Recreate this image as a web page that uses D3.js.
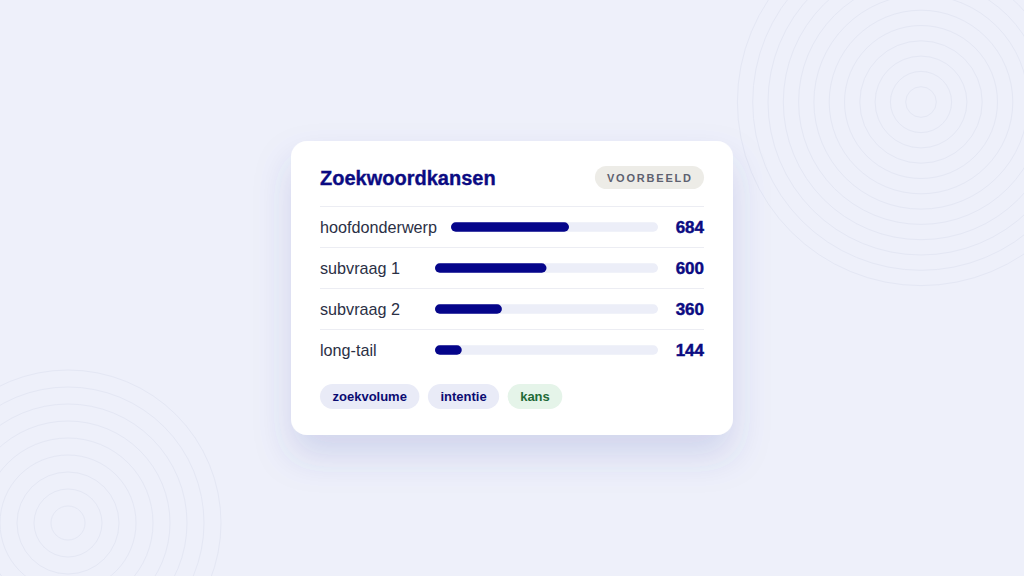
<!DOCTYPE html>
<html><head><meta charset="utf-8">
<script src="https://cdn.jsdelivr.net/npm/d3@7"></script>
<style>
html,body{margin:0;padding:0;background:#eef0fa;}
svg{display:block;}
</style></head>
<body>
<svg id="chart" width="1024" height="576"></svg>
<script>
const title = "Zoekwoordkansen";
const badge = "VOORBEELD";
const categories = ["hoofdonderwerp", "subvraag 1", "subvraag 2", "long-tail"];
const values = [684, 600, 360, 144];
const maxValue = 1200;
const chips = ["zoekvolume", "intentie", "kans"];
const chipKinds = ["blue", "blue", "green"];

const svg = d3.select("#chart");
const W = 1024, H = 576;
const defs = svg.append("defs");
const f = defs.append("filter").attr("id","sh").attr("x","-30%").attr("y","-30%").attr("width","160%").attr("height","180%");
f.append("feDropShadow").attr("dx",0).attr("dy",20).attr("stdDeviation",18)
 .attr("flood-color","#3a44a8").attr("flood-opacity",0.17);

svg.append("rect").attr("width",W).attr("height",H).attr("fill","#eef0fa");

// decorative rings
function rings(cx, cy, step, n){
  svg.append("g").selectAll("circle").data(d3.range(1, n+1)).join("circle")
    .attr("cx",cx).attr("cy",cy).attr("r",d=>d*step)
    .attr("fill","none").attr("stroke","#e4e7f4").attr("stroke-width",1);
}
rings(921, 102, 15.3, 12);
rings(68, 523, 17, 9);

// card
const card = {x:291, y:141, w:442, h:294};
svg.append("rect").attr("x",card.x).attr("y",card.y).attr("width",card.w).attr("height",card.h)
  .attr("rx",16).attr("fill","#ffffff").attr("filter","url(#sh)");

const left = 320, right = 704;
const font = "'Liberation Sans', Arial, sans-serif";

svg.append("text").attr("x",left).attr("y",184.5).text(title)
  .attr("font-family",font).attr("font-weight",700).attr("font-size",20).attr("fill","#0b0b82")
  .attr("stroke","#0b0b82").attr("stroke-width",0.35);

// badge
const bg = svg.append("g");
const bt = bg.append("text").text(badge).attr("font-family",font).attr("font-weight",700)
  .attr("font-size",11).attr("letter-spacing",1.8).attr("fill","#5d6170");
const bw = bt.node().getComputedTextLength();
const bPad = 12;
const bx = right - bw - bPad*2 + 1.8;
bg.insert("rect","text").attr("x",bx-1).attr("y",166).attr("width",bw + bPad*2 - 0.8).attr("height",23)
  .attr("rx",11.5).attr("fill","#edece7");
bt.attr("x",bx+bPad-1).attr("y",181.5);

// rows
const y = d3.scaleBand().domain(categories).range([206.5, 370.5]).paddingInner(0).paddingOuter(0);
const x = d3.scaleLinear().domain([0, maxValue]);
const trackEnd = 658;

const rows = svg.append("g").selectAll("g").data(categories).join("g")
  .attr("transform", d => `translate(0,${y(d)})`);

rows.append("line")
  .attr("x1",left).attr("x2",right).attr("y1",0).attr("y2",0)
  .attr("stroke","#ecedf3").attr("stroke-width",1);

rows.each(function(d,i){
  const g = d3.select(this);
  const cy = y.bandwidth()/2;
  const lab = g.append("text").attr("x",left).attr("y",cy+5.5).text(d)
    .attr("font-family",font).attr("font-size",16.2).attr("fill","#2b3045");
  const tw = lab.node().getComputedTextLength();
  const start = Math.round(left + Math.max(tw, 101) + 14);
  const sx = x.copy().range([0, trackEnd - start]);
  const bh = 9.5;
  g.append("rect").attr("x",start).attr("y",cy-bh/2).attr("width",trackEnd-start).attr("height",bh)
    .attr("rx",bh/2).attr("fill","#eceef8");
  g.append("rect").attr("x",start).attr("y",cy-bh/2).attr("width",sx(values[i])).attr("height",bh)
    .attr("rx",bh/2).attr("fill","#05058a");
  g.append("text").attr("x",right).attr("y",cy+6).attr("text-anchor","end").text(values[i])
    .attr("font-family",font).attr("font-weight",700).attr("font-size",17).attr("fill","#0b0b82")
    .attr("stroke","#0b0b82").attr("stroke-width",0.45);
});

// chips
let cx = left;
const chipG = svg.append("g");
chips.forEach((c,i)=>{
  const g = chipG.append("g");
  const t = g.append("text").text(c).attr("font-family",font).attr("font-weight",700)
    .attr("font-size",13).attr("fill", chipKinds[i]==="green" ? "#1f6a37" : "#0b0b72");
  const tw = t.node().getComputedTextLength();
  const pad = 12.5;
  g.insert("rect","text").attr("x",cx).attr("y",384).attr("width",tw+pad*2).attr("height",25)
    .attr("rx",12.5).attr("fill", chipKinds[i]==="green" ? "#e5f4e9" : "#e9ebf7");
  t.attr("x",cx+pad).attr("y",401);
  cx += tw + pad*2 + 8.5;
});
</script>
</body></html>
